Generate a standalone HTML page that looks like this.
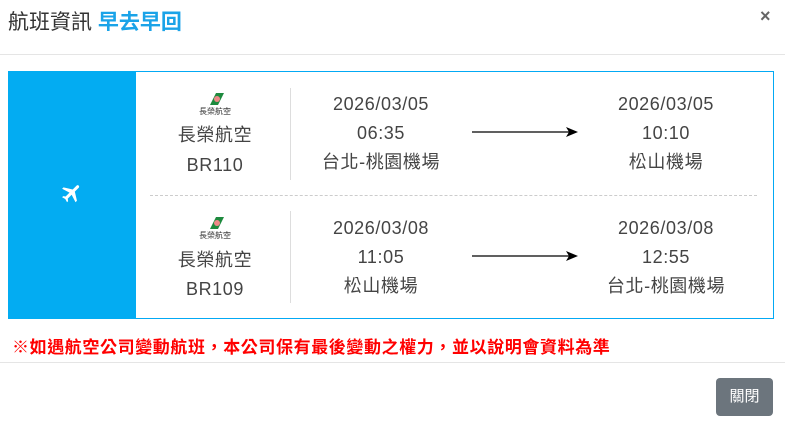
<!DOCTYPE html>
<html><head><meta charset="utf-8"><style>
body{margin:0;width:785px;height:424px;background:#fff;position:relative;font-family:"Liberation Sans","Noto Sans CJK TC",sans-serif;overflow:hidden}
.a{position:absolute;white-space:nowrap}
.c{transform:translateX(-50%);text-align:center}
.t{font-size:18px;color:#444;line-height:20px;letter-spacing:0.6px}
</style></head><body>
<div class="a" style="left:8px;top:11px;font-size:21px;line-height:24px;color:#333">航班資訊 <span style="color:#1aa3e8;font-weight:bold">早去早回</span></div>
<div class="a" style="left:760px;top:6px;font-size:18px;color:#666;font-weight:bold">×</div>
<div class="a" style="left:0;top:54px;width:785px;height:1px;background:#e5e5e5"></div>
<div class="a" style="left:8px;top:71px;width:764px;height:246px;border:1px solid #03a9f4"></div>
<div class="a" style="left:8px;top:71px;width:128px;height:248px;background:#03acf2"></div>
<svg class="a" style="left:60px;top:181px" width="24" height="24" viewBox="0 0 24 24"><path fill="#fff" d="M21 16v-2l-8-5V3.5C13 2.7 12.3 2 11.5 2S10 2.7 10 3.5V9l-8 5v2l8-2.5V19l-2 1.5V22l3.5-1 3.5 1v-1.5L13 19v-5.5z" transform="rotate(45 12 12)"/></svg>
<div class="a" style="left:150px;top:195px;width:607px;border-top:1px dashed #ccc"></div>
<div class="a" style="left:290px;top:88px;width:1px;height:92px;background:#ddd"></div>
<div class="a" style="left:290px;top:211px;width:1px;height:92px;background:#ddd"></div>

<!-- row1 -->
<svg class="a" style="left:206px;top:92px" width="20" height="14"><polygon points="4,13 10,1 18,1 12,13" fill="#1e8a3e"/><circle cx="11" cy="7" r="3" fill="#e88"/></svg>
<div class="a c" style="left:215px;top:107px;font-size:8px;line-height:10px;color:#333">長榮航空</div>
<div class="a c t" style="left:215px;top:125px">長榮航空</div>
<div class="a c t" style="left:215px;top:155px">BR110</div>
<div class="a c t" style="left:381px;top:94px">2026/03/05</div>
<div class="a c t" style="left:381px;top:123px">06:35</div>
<div class="a c t" style="left:381px;top:152px">台北-桃園機場</div>
<div class="a c t" style="left:666px;top:94px">2026/03/05</div>
<div class="a c t" style="left:666px;top:123px">10:10</div>
<div class="a c t" style="left:666px;top:152px">松山機場</div>
<svg class="a" style="left:470px;top:126px" width="110" height="12"><line x1="2" y1="6" x2="100" y2="6" stroke="#000" stroke-width="1.3"/><polygon points="96,1 108,6 96,11 99,6" fill="#000"/></svg>

<!-- row2 -->
<svg class="a" style="left:206px;top:216px" width="20" height="14"><polygon points="4,13 10,1 18,1 12,13" fill="#1e8a3e"/><circle cx="11" cy="7" r="3" fill="#e88"/></svg>
<div class="a c" style="left:215px;top:231px;font-size:8px;line-height:10px;color:#333">長榮航空</div>
<div class="a c t" style="left:215px;top:250px">長榮航空</div>
<div class="a c t" style="left:215px;top:279px">BR109</div>
<div class="a c t" style="left:381px;top:218px">2026/03/08</div>
<div class="a c t" style="left:381px;top:247px">11:05</div>
<div class="a c t" style="left:381px;top:276px">松山機場</div>
<div class="a c t" style="left:666px;top:218px">2026/03/08</div>
<div class="a c t" style="left:666px;top:247px">12:55</div>
<div class="a c t" style="left:666px;top:276px">台北-桃園機場</div>
<svg class="a" style="left:470px;top:250px" width="110" height="12"><line x1="2" y1="6" x2="100" y2="6" stroke="#000" stroke-width="1.3"/><polygon points="96,1 108,6 96,11 99,6" fill="#000"/></svg>

<div class="a" style="left:12px;top:338px;font-size:17px;line-height:20px;font-weight:bold;color:#f00;letter-spacing:0.6px">※如遇航空公司變動航班，本公司保有最後變動之權力，並以說明會資料為準</div>
<div class="a" style="left:0;top:362px;width:785px;height:1px;background:#e5e5e5"></div>
<div class="a" style="left:716px;top:378px;width:57px;height:38px;background:#6c757d;border-radius:4px;color:#fff;font-size:15px;line-height:38px;text-align:center">關閉</div>
</body></html>
